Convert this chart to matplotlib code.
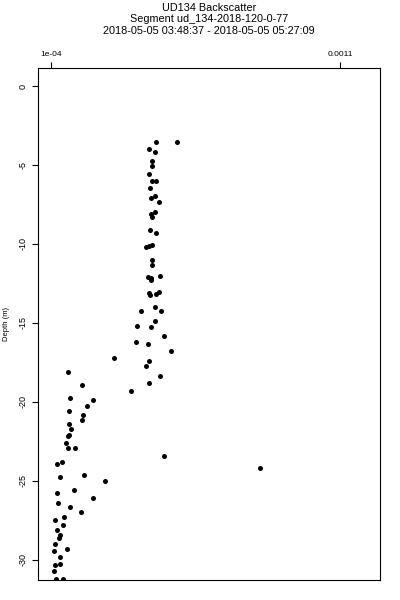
import matplotlib
matplotlib.use("Agg")
import matplotlib.pyplot as plt

plt.rcParams['font.family'] = ['Liberation Sans', 'DejaVu Sans']

title_lines = ["UD134 Backscatter",
               "Segment ud_134-2018-120-0-77",
               "2018-05-05 03:48:37 - 2018-05-05 05:27:09"]
y_label = "Depth (m)"

backscatter = [4.63e-4, 5.36e-4, 4.39e-4, 4.60e-4, 4.48e-4, 4.48e-4, 4.40e-4, 4.48e-4, 4.62e-4, 4.43e-4,
               4.61e-4, 4.45e-4, 4.73e-4, 4.60e-4, 4.45e-4, 4.48e-4, 4.44e-4, 4.64e-4, 4.48e-4, 4.29e-4,
               4.40e-4, 4.51e-4, 4.48e-4, 4.35e-4, 4.46e-4, 4.78e-4, 4.46e-4, 4.39e-4, 4.44e-4, 4.64e-4,
               4.73e-4, 4.12e-4, 4.60e-4, 4.80e-4, 4.61e-4, 3.98e-4, 4.47e-4, 4.92e-4, 3.94e-4, 4.37e-4,
               5.14e-4, 3.19e-4, 4.40e-4, 4.28e-4, 1.60e-4, 4.78e-4, 2.08e-4, 4.40e-4, 3.77e-4, 1.67e-4,
               2.45e-4, 2.26e-4, 1.62e-4, 2.10e-4, 2.06e-4, 1.63e-4, 1.69e-4, 1.63e-4, 1.59e-4, 1.53e-4,
               1.59e-4, 1.83e-4, 4.91e-4, 1.39e-4, 1.21e-4, 8.22e-4, 2.15e-4, 1.31e-4, 2.87e-4, 1.79e-4,
               1.22e-4, 2.45e-4, 1.23e-4, 1.65e-4, 2.05e-4, 1.44e-4, 1.14e-4, 1.40e-4, 1.22e-4, 1.30e-4,
               1.28e-4, 1.15e-4, 1.54e-4, 1.10e-4, 1.32e-4, 1.32e-4, 1.13e-4, 1.10e-4, 1.17e-4, 1.40e-4]
depth = [-3.56, -3.53, -4.01, -4.20, -4.75, -5.04, -5.55, -6.01, -5.99, -6.44,
         -6.94, -7.11, -7.36, -7.96, -8.12, -8.27, -9.13, -9.28, -10.06, -10.19,
         -10.11, -11.01, -11.33, -12.07, -12.13, -12.04, -12.28, -13.12, -13.23, -13.18,
         -13.04, -14.24, -13.99, -14.24, -14.85, -15.19, -15.25, -15.80, -16.22, -16.31,
         -16.77, -17.20, -17.39, -17.70, -18.08, -18.35, -18.94, -18.80, -19.30, -19.77,
         -19.89, -20.27, -20.59, -20.82, -21.16, -21.39, -21.71, -22.09, -22.17, -22.58,
         -22.93, -22.93, -23.40, -23.78, -23.92, -24.20, -24.62, -24.77, -25.02, -25.57,
         -25.74, -26.09, -26.39, -26.65, -26.94, -27.26, -27.49, -27.78, -28.10, -28.42,
         -28.61, -28.97, -29.30, -29.43, -29.83, -30.23, -30.34, -30.72, -31.22, -31.18]

x_ticks = [1e-4, 0.0011]
x_ticklabels = ["1e-04", "0.0011"]
y_ticks = [0, -5, -10, -15, -20, -25, -30]
y_ticklabels = ["0", "-5", "-10", "-15", "-20", "-25", "-30"]

fig = plt.figure(figsize=(4, 6), dpi=100)
ax = fig.add_axes([38/400, 1-580/600, (380-38)/400, (580-68)/600])
ax.plot(backscatter, depth, linestyle='none', marker='o', markersize=3.6,
        color='black', markeredgewidth=0)
ax.set_xlim(0.55e-4, 12.38e-4)
ax.set_ylim(-31.27, 1.14)

ax.xaxis.tick_top()
ax.set_xticks(x_ticks)
ax.set_xticklabels(x_ticklabels, fontsize=6)
ax.set_yticks(y_ticks)
ax.set_yticklabels(y_ticklabels, fontsize=6.5, rotation=90, va='center')
ax.tick_params(axis='both', direction='out', length=4.5, width=0.8, pad=3)
for s in ax.spines.values():
    s.set_linewidth(0.8)
ax.set_ylabel(y_label, fontsize=5.5, labelpad=6)

title_y = [8, 19.5, 31]
for t, yp in zip(title_lines, title_y):
    fig.text(209/400, 1 - yp/600, t, ha='center', va='center', fontsize=7.8)

fig.savefig("out.png", dpi=100)
